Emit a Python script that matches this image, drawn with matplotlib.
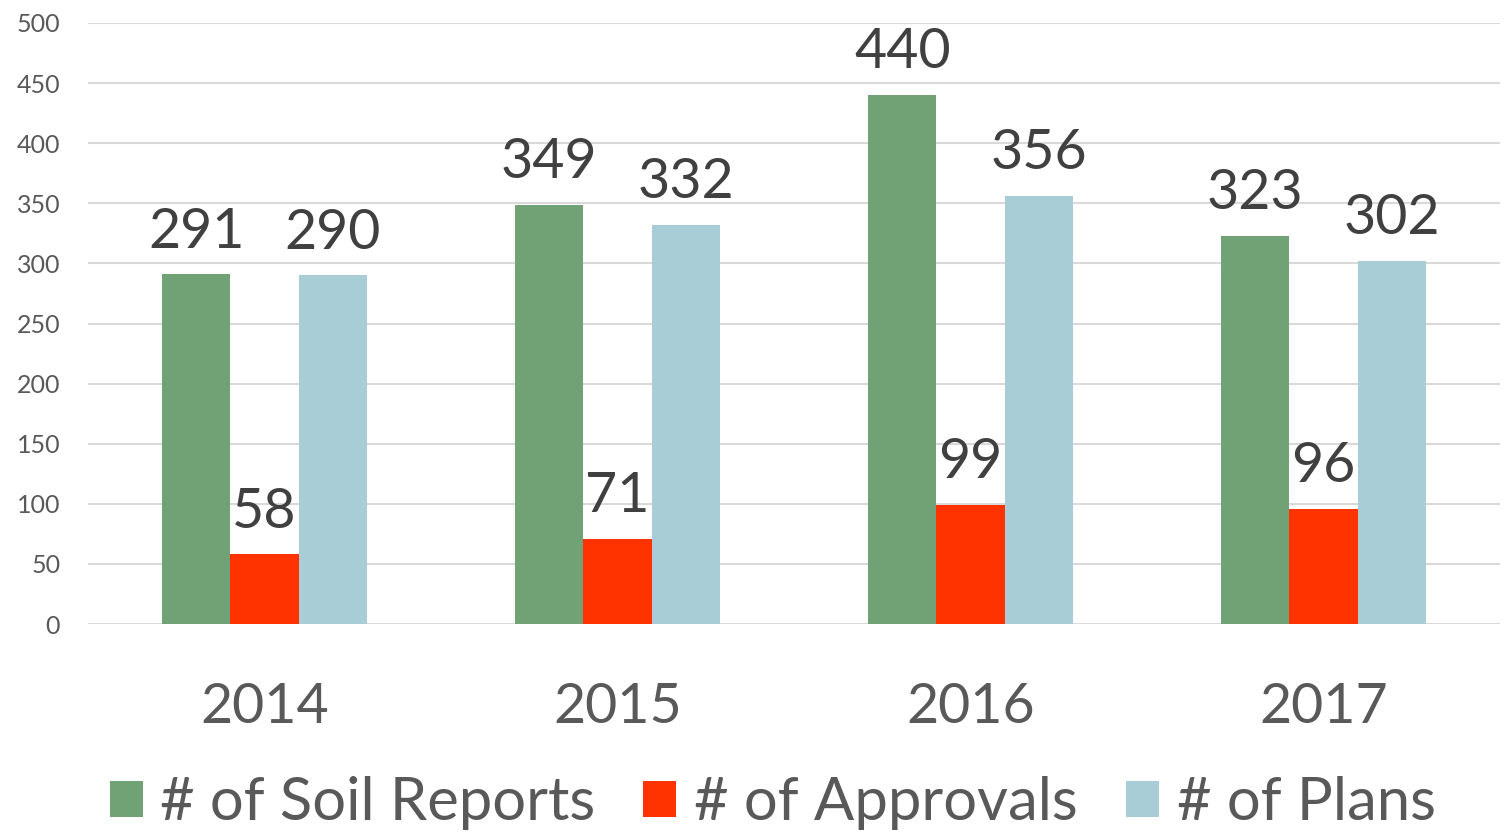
import numpy as np
import matplotlib
matplotlib.use("Agg")
import matplotlib.pyplot as plt

plt.rcParams['font.family'] = ['Lato', 'DejaVu Sans']

# Data
years = ['2014', '2015', '2016', '2017']
soil_reports = [291, 349, 440, 323]
approvals = [58, 71, 99, 96]
plans = [290, 332, 356, 302]

series_names = ['# of Soil Reports', '# of Approvals', '# of Plans']
series_colors = ['#70A275', '#FF3300', '#A9CDD6']

fig = plt.figure(figsize=(15.06, 8.35), dpi=100)
ax = fig.add_axes([88 / 1506, 1 - 624 / 835, (1500 - 88) / 1506, (624 - 23) / 835])

x = np.arange(len(years))
w = 0.193
for i, (vals, name, col) in enumerate(zip([soil_reports, approvals, plans], series_names, series_colors)):
    bars = ax.bar(x + (i - 1) * w, vals, width=w, color=col, label=name, zorder=3)
    for b, v in zip(bars, vals):
        ax.annotate(str(v), (b.get_x() + b.get_width() / 2, v),
                    xytext=(0, 12), textcoords='offset points',
                    ha='center', va='bottom', fontsize=40, color='#404040')

ax.set_xlim(-0.5, len(years) - 0.5)
ax.set_ylim(0, 500)
ax.set_yticks(range(0, 501, 50))
ax.yaxis.grid(True, color='#D9D9D9', linewidth=1.5, zorder=0)
ax.set_axisbelow(True)
for s in ax.spines.values():
    s.set_visible(False)
ax.tick_params(axis='both', length=0)
ax.tick_params(axis='y', labelsize=18, labelcolor='#595959', pad=20)
ax.set_xticks(x)
ax.set_xticklabels(years, fontsize=40, color='#595959')
ax.tick_params(axis='x', pad=42)

leg = fig.legend(loc='lower center', ncol=3, bbox_to_anchor=(0.513, -0.058),
                 frameon=False, fontsize=43, handlelength=0.55, handleheight=0.55,
                 handletextpad=0.3, columnspacing=0.8, labelcolor='#595959')

fig.savefig('out.png', dpi=100)
